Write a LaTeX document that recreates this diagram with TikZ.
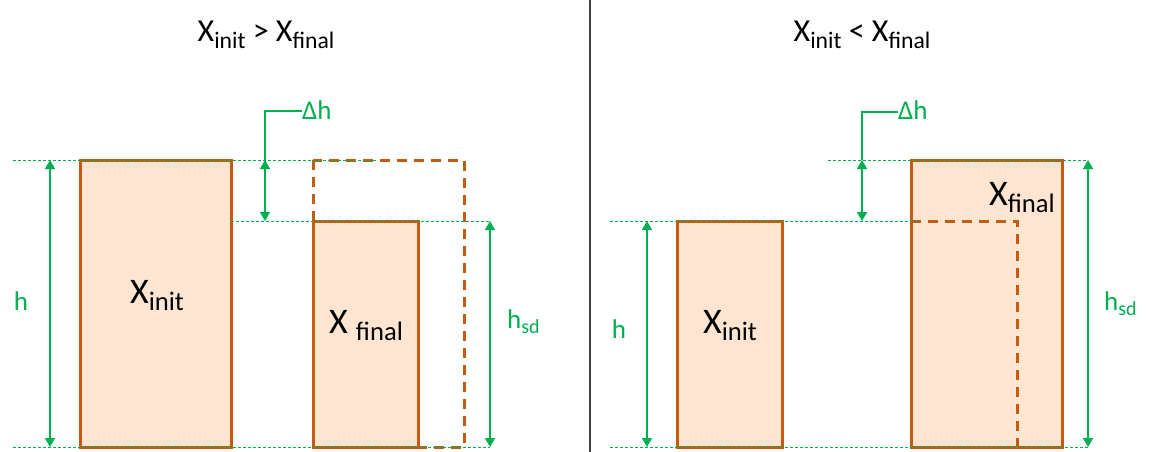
\documentclass[tikz,border=0pt]{standalone}
\usepackage{fontspec}
\setmainfont{Carlito}
\usetikzlibrary{arrows.meta}
\definecolor{grn}{HTML}{00B050}
\definecolor{org}{HTML}{C55A11}
\definecolor{fil}{HTML}{FDE5D2}
\definecolor{divg}{HTML}{404040}
\makeatletter
\newcommand\subtx[1]{\raisebox{-0.2em}{\fontsize{\fpeval{0.74*\f@size}}{1}\selectfont #1}}
\makeatother
\tikzset{
  box/.style={draw=org, fill=fil, line width=3pt},
  dbox/.style={draw=org, line width=3pt, dash pattern=on 10pt off 7pt},
  guide/.style={draw=grn, line width=1pt, dash pattern=on 3pt off 2pt},
  dim/.style={draw=grn, line width=1.6pt, {Triangle[width=10pt,length=9pt]}-{Triangle[width=10pt,length=9pt]}},
  lead/.style={draw=grn, line width=1.6pt},
  ttl/.style={anchor=base, inner sep=0pt, font=\fontsize{32}{34}\selectfont},
  big/.style={anchor=base, inner sep=0pt, font=\fontsize{36}{38}\selectfont},
  glab/.style={inner sep=0pt, text=grn, font=\fontsize{27}{29}\selectfont},
}
\begin{document}
\begin{tikzpicture}[x=1pt,y=-1pt]
\useasboundingbox (0,0) rectangle (1154,452);
% ---------- left panel ----------
\coordinate (LA1) at (80,160); \coordinate (LA2) at (231,447);
\coordinate (LD1) at (313,160); \coordinate (LD2) at (464,447);
\coordinate (LB1) at (313,221); \coordinate (LB2) at (418,447);
\fill[fil] (LA1) rectangle (LA2);
\fill[fil] (LB1) rectangle (LB2);
\draw[box, fill=none] (LA1) rectangle (LA2);
\draw[box, fill=none] (LB1) rectangle (LB2);
\draw[dbox] (LD1) rectangle (LD2);
% guides
\coordinate (g1a) at (13,160); \coordinate (g1b) at (377,160);
\coordinate (g2a) at (231,221); \coordinate (g2b) at (490,221);
\coordinate (g3a) at (13,447); \coordinate (g3b) at (490,447);
\draw[guide] (g1a) -- (g1b);
\draw[guide] (g2a) -- (g2b);
\draw[guide] (g3a) -- (g3b);
% dimensions
\coordinate (hLt) at (50,160); \coordinate (hLb) at (50,447);
\draw[dim] (hLt) -- (hLb);
\coordinate (dLt) at (265,160); \coordinate (dLb) at (265,221);
\coordinate (dLc) at (265,111); \coordinate (dLe) at (302,111);
\draw[dim] (dLt) -- (dLb);
\draw[lead] (dLt) -- (dLc) -- (dLe);
\coordinate (sLt) at (490,221); \coordinate (sLb) at (490,447);
\draw[dim] (sLt) -- (sLb);
% texts
\node[ttl] (tL) at (266,42) {X\subtx{init} > X\subtx{final}};
\node[big] (xiL) at (157,303) {X\subtx{init}};
\node[big] (xfL) at (366,333) {X \subtx{final}};
\node[glab, anchor=base] (hL) at (21,310) {h};
\node[glab, anchor=base west] (hsL) at (507,328) {h\subtx{sd}};
\node[glab, anchor=base west] (dhL) at (302,119) {Δh};
% divider
\coordinate (dv1) at (590,0); \coordinate (dv2) at (590,452);
\draw[divg, line width=1.8pt] (dv1) -- (dv2);
% ---------- right panel ----------
\coordinate (RA1) at (677,221); \coordinate (RA2) at (782,447);
\coordinate (RB1) at (911,160); \coordinate (RB2) at (1062,447);
\draw[box] (RA1) rectangle (RA2);
\draw[box] (RB1) rectangle (RB2);
\coordinate (RD1) at (911,221); \coordinate (RD2) at (1017,221); \coordinate (RD3) at (1017,447);
\draw[dbox] (RD1) -- (RD2) -- (RD3);
\coordinate (r1a) at (610,221); \coordinate (r1b) at (920,221);
\coordinate (r2a) at (828,160); \coordinate (r2b) at (1088,160);
\coordinate (r3a) at (610,447); \coordinate (r3b) at (1088,447);
\draw[guide] (r1a) -- (r1b);
\draw[guide] (r2a) -- (r2b);
\draw[guide] (r3a) -- (r3b);
\coordinate (hRt) at (647,221); \coordinate (hRb) at (647,447);
\draw[dim] (hRt) -- (hRb);
\coordinate (dRt) at (862,160); \coordinate (dRb) at (862,221);
\coordinate (dRc) at (862,112); \coordinate (dRe) at (898,112);
\draw[dim] (dRt) -- (dRb);
\draw[lead] (dRt) -- (dRc) -- (dRe);
\coordinate (sRt) at (1088,160); \coordinate (sRb) at (1088,447);
\draw[dim] (sRt) -- (sRb);
\node[ttl] (tR) at (862,42) {X\subtx{init} < X\subtx{final}};
\node[big] (xiR) at (730,333) {X\subtx{init}};
\node[big] (xfR) at (1022,205) {X\subtx{final}};
\node[glab, anchor=base] (hR) at (619,338) {h};
\node[glab, anchor=base west] (hsR) at (1104,310) {h\subtx{sd}};
\node[glab, anchor=base west] (dhR) at (898,119) {Δh};
\end{tikzpicture}
\end{document}
